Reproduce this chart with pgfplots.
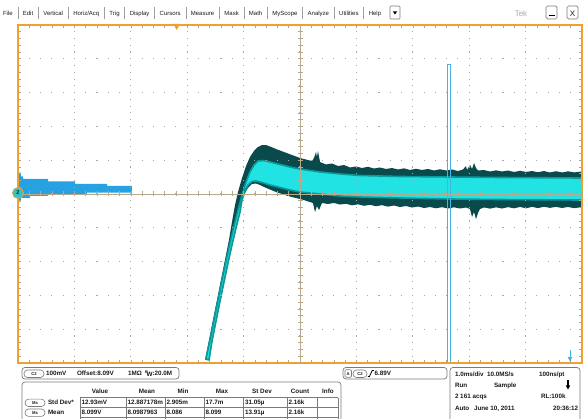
\documentclass[border=0pt]{standalone}
\usepackage{pgfplots}
\pgfplotsset{compat=1.18}
\usepackage{fontspec}
\setmainfont{Liberation Sans}
\definecolor{outerc}{HTML}{0B4A4C}
\definecolor{midc}{HTML}{0A9A9C}
\definecolor{corec}{HTML}{22E3E3}
\definecolor{histc}{HTML}{26A2E2}
\definecolor{rectc}{HTML}{45B4E4}
\definecolor{gridc}{HTML}{A8A8A8}
\definecolor{centerc}{HTML}{B8A88C}
\definecolor{tickc}{HTML}{B0A488}
\definecolor{borderc}{HTML}{F0A030}
\definecolor{markc}{HTML}{2EC4CC}
\definecolor{textc}{HTML}{1A1A1A}
\definecolor{boxc}{HTML}{7A7A7A}
\definecolor{sepc}{HTML}{A0A0A0}
\definecolor{tekc}{HTML}{A8A8A8}
\newcommand{\mf}{\fontsize{6bp}{7bp}\selectfont}
\newcommand{\pf}{\fontsize{6.3bp}{7bp}\selectfont\bfseries}
\newcommand{\smf}{\fontsize{4.2bp}{5bp}\selectfont\bfseries}
\newcommand{\msep}{\hspace{4.85bp}{\color{sepc}\rule[-3.5bp]{0.5bp}{12.5bp}}\hspace{4.85bp}}
\begin{document}
\begin{tikzpicture}
\useasboundingbox (0,0) rectangle (584bp,419bp);
\fill[white] (0,0) rectangle (584bp,419bp);
\begin{axis}[
  at={(18bp,56bp)}, anchor=south west,
  scale only axis, width=564bp, height=338bp,
  xmin=0, xmax=10, ymin=7.59, ymax=8.59,
  xtick={0,1,...,10},
  ytick={7.59,7.69,7.79,7.89,7.99,8.09,8.19,8.29,8.39,8.49,8.59},
  minor x tick num=4, minor y tick num=4,
  xticklabels={}, yticklabels={},
  tick align=inside,
  major tick length=3bp, minor tick length=3bp,
  tick style={draw=tickc, line width=0.6bp},
  grid=major,
  x grid style={draw=gridc, line width=1.1bp, dash pattern=on 1.1bp off 5.66bp, dash phase=0.55bp},
  y grid style={draw=gridc, line width=1.1bp, dash pattern=on 1.1bp off 10.18bp, dash phase=0.55bp},
  axis line style={draw=borderc, line width=2bp},
  axis on top,
  clip=true,
]
% histogram (hits per voltage row)
\addplot[fill=histc, draw=none] coordinates {
(0,8.1536) (0.053,8.1536) (0.053,8.1418) (0.089,8.1418) (0.089,8.1344) (0.532,8.1344)
(0.532,8.127) (1.011,8.127) (1.011,8.1196) (1.578,8.1196) (1.578,8.1137) (2.021,8.1137)
(2.021,8.0944) (1.223,8.0944) (1.223,8.09) (0.532,8.09) (0.532,8.0841) (0.213,8.0841)
(0.213,8.0782) (0.053,8.0782) (0.053,8.0678) (0,8.0678)} -- cycle;
% outer envelope of the persisted waveform
\addplot[fill=outerc, draw=none] coordinates {
(3.316,7.5989) (3.387,7.658) (3.457,7.7172) (3.528,7.7764) (3.599,7.8356) (3.670,7.8947)
(3.741,7.9539) (3.794,8.0072) (3.848,8.0575) (3.901,8.0959) (3.972,8.1373) (4.043,8.1728)
(4.113,8.1994) (4.184,8.2172) (4.255,8.229) (4.326,8.2349) (4.397,8.2349) (4.468,8.2305)
(4.574,8.2231) (4.716,8.2142) (4.858,8.2054) (5.0,8.1965) (5.106,8.192) (5.213,8.1876)
(5.248,8.1965) (5.284,8.2142) (5.301,8.1994) (5.319,8.2172) (5.355,8.1847)
(5.461,8.1773) (5.567,8.1802) (5.674,8.1728) (5.780,8.1758) (5.887,8.1684) (5.993,8.1714)
(6.099,8.1669) (6.206,8.1705) (6.312,8.1654) (6.418,8.1684) (6.525,8.164) (6.631,8.1669)
(6.738,8.1625) (6.844,8.166) (6.950,8.161) (7.057,8.1646) (7.163,8.161) (7.270,8.164)
(7.376,8.1595) (7.482,8.1631) (7.589,8.1595) (7.695,8.1625) (7.801,8.158) (7.890,8.1625)
(7.943,8.1728) (7.961,8.161) (8.014,8.1758) (8.050,8.164) (8.085,8.1817) (8.121,8.1669)
(8.156,8.1595) (8.262,8.161) (8.369,8.1565) (8.475,8.1601) (8.582,8.1565) (8.688,8.1595)
(8.794,8.1551) (8.901,8.1586) (9.007,8.1551) (9.113,8.158) (9.220,8.1542) (9.326,8.158)
(9.433,8.1536) (9.539,8.1574) (9.645,8.1536) (9.752,8.1571) (9.858,8.1539) (10.0,8.1566)
(10.0,8.051) (9.858,8.0482) (9.752,8.0516) (9.645,8.0487) (9.539,8.0519) (9.433,8.049)
(9.326,8.0523) (9.220,8.0484) (9.113,8.052) (9.007,8.0476) (8.901,8.0517) (8.794,8.0476)
(8.688,8.0511) (8.582,8.047) (8.475,8.0505) (8.369,8.0467) (8.262,8.0502) (8.191,8.0456)
(8.156,8.0338) (8.121,8.016) (8.085,8.0367) (8.050,8.022) (8.014,8.0456) (7.943,8.05)
(7.837,8.0471) (7.730,8.0506) (7.624,8.0471) (7.518,8.051) (7.411,8.0477) (7.305,8.0515)
(7.199,8.0486) (7.092,8.053) (6.986,8.05) (6.879,8.0545) (6.773,8.0515) (6.667,8.056)
(6.560,8.0527) (6.454,8.0569) (6.348,8.0539) (6.241,8.058) (6.135,8.0551) (6.028,8.0595)
(5.922,8.0565) (5.816,8.061) (5.709,8.0589) (5.603,8.0634) (5.496,8.0604) (5.390,8.0634)
(5.337,8.0427) (5.301,8.0545) (5.266,8.0367) (5.230,8.0634) (5.142,8.0678) (5.071,8.0722)
(5.0,8.0752) (4.894,8.0796) (4.787,8.0841) (4.681,8.09) (4.574,8.0959) (4.468,8.1033)
(4.362,8.1107) (4.291,8.1166) (4.220,8.1211) (4.149,8.1196) (4.078,8.1078) (4.025,8.093)
(3.972,8.0722) (3.936,8.0515) (3.883,7.9983) (3.812,7.948) (3.741,7.8947) (3.670,7.8385)
(3.599,7.7823) (3.528,7.7231) (3.457,7.664) (3.387,7.5989)} -- cycle;
% bright core of the waveform
\addplot[fill=corec, draw=midc, line width=1.6bp] coordinates {
(3.333,7.6018) (3.404,7.658) (3.475,7.7172) (3.546,7.7764) (3.617,7.8356) (3.688,7.8918)
(3.759,7.945) (3.830,7.9953) (3.901,8.0427) (3.972,8.087) (4.043,8.1255) (4.113,8.1551)
(4.184,8.1758) (4.255,8.1876) (4.362,8.1891) (4.504,8.1832) (4.681,8.1758) (4.858,8.1684)
(5.0,8.164) (5.355,8.1551) (5.709,8.1492) (6.064,8.1447) (6.773,8.1418) (7.660,8.1403)
(8.546,8.1388) (10.0,8.1373)
(10.0,8.0722) (8.546,8.0737) (7.660,8.0752) (6.773,8.0782) (6.064,8.0811) (5.709,8.0841)
(5.355,8.09) (5.0,8.0959) (4.823,8.1018) (4.645,8.1092) (4.468,8.1166) (4.326,8.124)
(4.220,8.1285) (4.149,8.127) (4.078,8.1166) (4.025,8.0989) (3.972,8.0722) (3.936,8.0367)
(3.865,7.9894) (3.794,7.9391) (3.723,7.8859) (3.652,7.8296) (3.582,7.7734) (3.511,7.7143)
(3.440,7.6551) (3.387,7.5989)} -- cycle;
% histogram window
\addplot[draw=rectc, line width=0.8bp] coordinates {
(7.619,7.58) (7.619,8.4746) (7.665,8.4746) (7.665,7.58)};
\end{axis}
% centre cross with its fine ticks
\begin{axis}[
  at={(18bp,56bp)}, anchor=south west,
  scale only axis, width=564bp, height=338bp,
  xmin=-5, xmax=5, ymin=-5, ymax=5,
  axis lines*=middle,
  axis line style={draw=centerc, line width=0.7bp, -},
  xtick={-5,-4,...,5}, ytick={-5,-4,...,5},
  minor x tick num=4, minor y tick num=4,
  xticklabels={}, yticklabels={},
  tick align=center, major tick length=5bp, minor tick length=5bp,
  tick style={draw=centerc, line width=0.6bp},
]
\end{axis}
\begin{scope}[x=1bp,y=-1bp,shift={(0bp,419bp)}, every node/.style={inner sep=0pt, outer sep=0pt, text=textc}]
% menu bar
\node[anchor=base west, font=\mf] at (3,15.6) {File\msep Edit\msep Vertical\msep Horiz/Acq\msep Trig\msep Display\msep Cursors\msep Measure\msep Mask\msep Math\msep MyScope\msep Analyze\msep Utilities\msep Help};
\draw[boxc, line width=0.6bp, rounded corners=1bp] (390,6) rectangle (400,19);
\fill[black] (392.8,11.3) -- (397.2,11.3) -- (395,14.6) -- cycle;
\node[anchor=base, font=\fontsize{8bp}{8bp}\selectfont, text=tekc] at (521,16.5) {Tek};
\draw[boxc, line width=0.7bp, rounded corners=1.5bp] (546,6) rectangle (557,19);
\draw[black, line width=1bp] (548.5,15.5) -- (554.5,15.5);
\draw[boxc, line width=0.7bp, rounded corners=1.5bp] (567,6) rectangle (578,19);
\node[anchor=base, font=\fontsize{8bp}{8bp}\selectfont] at (572.5,16.2) {X};
% trigger position marker
\fill[borderc] (173.3,24) -- (180.1,24) -- (176.7,30) -- cycle;
% channel 2 level marker
\draw[fill=markc, draw=borderc, line width=0.9bp] (18,193) circle[radius=5.5bp];
\node[font=\fontsize{5.5bp}{5.5bp}\selectfont\bfseries] at (18,193) {2};
% cyan arrow lower right
\draw[rectc, line width=0.8bp] (570,350) -- (570,357);
\fill[rectc] (567.6,357) -- (572.4,357) -- (570,361.5) -- cycle;
% channel box
\draw[boxc, line width=0.7bp, rounded corners=3bp] (22,367.5) rectangle (179,379);
\draw[boxc, line width=0.6bp, rounded corners=3.5bp] (24,370) rectangle (44,377.5);
\node[anchor=center, font=\smf] at (34,373.8) {C2};
\node[anchor=base west, font=\pf] at (46,376) {100mV};
\node[anchor=base west, font=\pf] at (77,376) {Offset:8.09V};
\node[anchor=base west, font=\pf] at (128,376) {1MΩ};
\node[anchor=base west, font=\pf] at (145,376) {\rlap{\raisebox{2.6bp}{\fontsize{4bp}{4bp}\selectfont B}}\kern1.6bp\raisebox{-1bp}{W}:20.0M};
% measurement table
\draw[boxc, line width=0.7bp, rounded corners=3bp] (22,382) rectangle (341,430);
\foreach \x/\t in {100/Value,147/Mean,183/Min,222/Max,262/St Dev,300/Count,328/Info}
  \node[anchor=base, font=\pf] at (\x,394) {\t};
\foreach \x in {80,126,165,204,243,287,317,338}
  \draw[boxc, line width=0.6bp] (\x,397.7) -- (\x,425);
\foreach \y in {397.7,407.7,417.3}
  \draw[boxc, line width=0.6bp] (80,\y) -- (338,\y);
\draw[boxc, line width=0.6bp, rounded corners=3.5bp] (25,399.2) rectangle (45,406.5);
\node[font=\smf] at (35,403) {Ms};
\draw[boxc, line width=0.6bp, rounded corners=3.5bp] (25,409) rectangle (45,416.4);
\node[font=\smf] at (35,412.8) {Ms};
\node[anchor=base west, font=\pf] at (48,405) {Std Dev*};
\node[anchor=base west, font=\pf] at (48,415) {Mean};
\foreach \x/\t in {81.5/12.93mV,127.5/12.887178m,166.5/2.905m,205.5/17.7m,245/31.05µ,288.5/2.16k}
  \node[anchor=base west, font=\pf] at (\x,405) {\t};
\foreach \x/\t in {81.5/8.099V,127.5/8.0987963,166.5/8.086,205.5/8.099,245/13.91µ,288.5/2.16k}
  \node[anchor=base west, font=\pf] at (\x,415) {\t};
% trigger box
\draw[boxc, line width=0.7bp, rounded corners=3bp] (343,367.5) rectangle (447,379);
\draw[boxc, line width=0.6bp, rounded corners=1bp] (345,369.8) rectangle (351.5,377.3);
\node[font=\smf] at (348.2,373.7) {A};
\draw[boxc, line width=0.6bp, rounded corners=3.5bp] (353,370) rectangle (367,377.5);
\node[font=\smf] at (360,373.8) {C2};
\draw[black, line width=0.8bp] (367.8,376.6) -- (369.4,376.6) -- (372.2,370.6) -- (373.8,370.6);
\node[anchor=base west, font=\pf] at (374.5,376) {6.89V};
% timebase box
\draw[boxc, line width=0.7bp, rounded corners=3bp] (450,367.5) rectangle (580,430);
\node[anchor=base west, font=\pf] at (455,376.4) {1.0ms/div};
\node[anchor=base west, font=\pf] at (487,376.4) {10.0MS/s};
\node[anchor=base west, font=\pf] at (539,376.4) {100ns/pt};
\node[anchor=base west, font=\pf] at (455,387.6) {Run};
\node[anchor=base west, font=\pf] at (494,387.6) {Sample};
\draw[black, line width=1.3bp] (568,380.5) -- (568,386);
\fill[black] (565.8,385.5) -- (570.2,385.5) -- (568,389.5) -- cycle;
\node[anchor=base west, font=\pf] at (455,399) {2 161 acqs};
\node[anchor=base west, font=\pf] at (541,399) {RL:100k};
\node[anchor=base west, font=\pf] at (455,410.4) {Auto};
\node[anchor=base west, font=\pf] at (474,410.4) {June 10, 2011};
\node[anchor=base west, font=\pf] at (553,410.4) {20:36:12};
\end{scope}
\end{tikzpicture}
\end{document}
